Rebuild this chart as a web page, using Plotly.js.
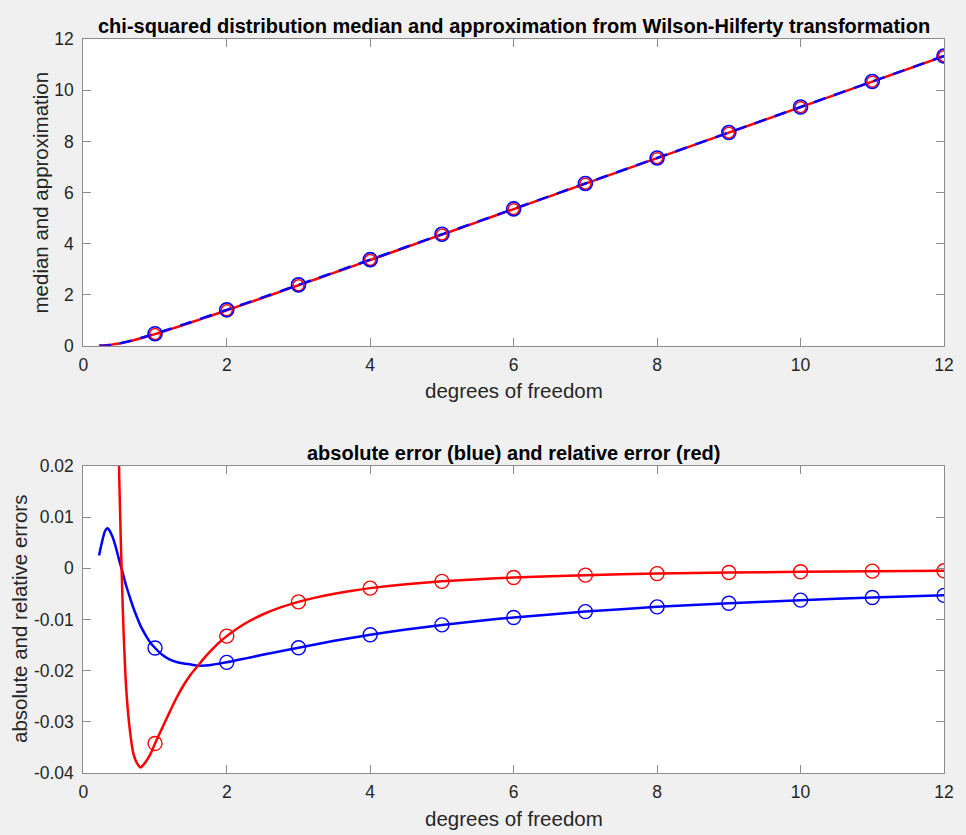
<!DOCTYPE html>
<html>
<head>
<meta charset="utf-8">
<script src="https://cdn.plot.ly/plotly-3.0.1.min.js"></script>
<style>html,body{margin:0;padding:0;background:#f0f0f0;}#chart{width:966px;height:835px;}</style>
</head>
<body>
<div id="chart"></div>
<script>
// degrees of freedom grid for the curves
const dofGrid = [0.22,0.25,0.3,0.33,0.35,0.4,0.45,0.5,0.55,0.6,0.65,0.7,0.75,0.8,0.85,0.9,0.95,1,1.1,1.2,1.3,1.4,1.5,1.6,1.7,1.8,1.9,2,2.25,2.5,2.75,3,3.25,3.5,3.75,4,4.5,5,5.5,6,7,8,9,10,11,12];
// chi-squared median (red, solid)
const medianCurve = [0.00225,0.00484,0.01247,0.0193,0.02472,0.04149,0.06264,0.08734,0.1155,0.14623,0.17958,0.21474,0.25175,0.2901,0.32984,0.3706,0.41232,0.45494,0.5421,0.6314,0.7225,0.8150,0.9084,1.0026,1.0977,1.1934,1.2897,1.38629,1.62936,1.87391,2.11955,2.36597,2.61303,2.86064,3.1085,3.35669,3.85376,4.35146,4.84961,5.34812,6.34581,7.34412,8.34283,9.34182,10.341,11.34032];
// Wilson-Hilferty approximation (blue, dashed)
const approxCurve = [0.0,0.00034,0.00523,0.0115,0.01703,0.03512,0.05837,0.08573,0.11642,0.14977,0.18528,0.22258,0.26135,0.30137,0.34244,0.38440,0.42712,0.47051,0.55895,0.64917,0.74081,0.83357,0.92722,1.02166,1.11669,1.21225,1.30828,1.40466,1.64701,1.89081,2.13575,2.38150,2.62788,2.87481,3.12206,3.36968,3.86572,4.36252,4.85990,5.35772,6.35427,7.35165,8.34966,9.34804,10.34671,11.34560];
// absolute error (blue)
const absErrCurve = [0.0025,0.0045,0.0072,0.0078,0.0077,0.0064,0.0043,0.0016,-0.0009,-0.0035,-0.0057,-0.0078,-0.0096,-0.0113,-0.0126,-0.0138,-0.0148,-0.01557,-0.0169,-0.0178,-0.0183,-0.0186,-0.0188,-0.01905,-0.0190,-0.01885,-0.0186,-0.01837,-0.01765,-0.0169,-0.0162,-0.01553,-0.01485,-0.01417,-0.01356,-0.01299,-0.01196,-0.01106,-0.01029,-0.0096,-0.00846,-0.00753,-0.00683,-0.00622,-0.00571,-0.00528];
// relative error (red)
const relErrCurve = [1.11,0.93,0.577,0.404,0.311,0.154,0.0687,0.0184,-0.0078,-0.0239,-0.0317,-0.0363,-0.0381,-0.0389,-0.0382,-0.0372,-0.0359,-0.03422,-0.0312,-0.0282,-0.0253,-0.0228,-0.0207,-0.0190,-0.01731,-0.0158,-0.01442,-0.01325,-0.01083,-0.00902,-0.00764,-0.00656,-0.00568,-0.00495,-0.00436,-0.00387,-0.0031,-0.00254,-0.00212,-0.0018,-0.00133,-0.00103,-0.00082,-0.00067,-0.00055,-0.00047];

// integer degrees of freedom (markers)
const dofInt = [1,2,3,4,5,6,7,8,9,10,11,12];
const medianInt = [0.45494,1.38629,2.36597,3.35669,4.35146,5.34812,6.34581,7.34412,8.34283,9.34182,10.341,11.34032];
const approxInt = [0.47051,1.40466,2.38150,3.36968,4.36252,5.35772,6.35427,7.35165,8.34966,9.34804,10.34671,11.34560];
const absErrInt = [-0.01557,-0.01837,-0.01553,-0.01299,-0.01106,-0.0096,-0.00846,-0.00753,-0.00683,-0.00622,-0.00571,-0.00528];
const relErrInt = [-0.03422,-0.01325,-0.00656,-0.00387,-0.00254,-0.0018,-0.00133,-0.00103,-0.00082,-0.00067,-0.00055,-0.00047];

// tick labels
const xTickVals = [0,2,4,6,8,10,12];
const xTickText = ['0','2','4','6','8','10','12'];
const yTopTickVals = [0,2,4,6,8,10,12];
const yTopTickText = ['0','2','4','6','8','10','12'];
const yBotTickVals = [-0.04,-0.03,-0.02,-0.01,0,0.01,0.02];
const yBotTickText = ['-0.04','-0.03','-0.02','-0.01','0','0.01','0.02'];

const RED = '#ff0000', BLUE = '#0000ff';
const FONT = 'Liberation Sans, Arial, Helvetica, sans-serif';

const traces = [
  {x: dofGrid, y: medianCurve, xaxis:'x', yaxis:'y', mode:'lines', line:{color:RED, width:2.5, shape:'spline', smoothing:0.6}, showlegend:false, hoverinfo:'skip'},
  {x: dofGrid, y: approxCurve, xaxis:'x', yaxis:'y', mode:'lines', line:{color:BLUE, width:2.5, dash:'12px,9px', shape:'spline', smoothing:0.6}, showlegend:false, hoverinfo:'skip'},
  {x: dofInt, y: medianInt, xaxis:'x', yaxis:'y', mode:'markers', marker:{symbol:'circle-open', size:11, color:RED, line:{width:1.5}}, showlegend:false},
  {x: dofInt, y: approxInt, xaxis:'x', yaxis:'y', mode:'markers', marker:{symbol:'circle-open', size:14, color:BLUE, line:{width:1.6}}, showlegend:false},

  {x: dofGrid, y: absErrCurve, xaxis:'x2', yaxis:'y2', mode:'lines', line:{color:BLUE, width:2.5, shape:'spline', smoothing:0.6}, showlegend:false, hoverinfo:'skip'},
  {x: dofGrid, y: relErrCurve, xaxis:'x2', yaxis:'y2', mode:'lines', line:{color:RED, width:2.5, shape:'spline', smoothing:0.6}, showlegend:false, hoverinfo:'skip'},
  {x: dofInt, y: absErrInt, xaxis:'x2', yaxis:'y2', mode:'markers', marker:{symbol:'circle-open', size:14, color:BLUE, line:{width:1.4}}, showlegend:false},
  {x: dofInt, y: relErrInt, xaxis:'x2', yaxis:'y2', mode:'markers', marker:{symbol:'circle-open', size:14, color:RED, line:{width:1.4}}, showlegend:false}
];

const axisCommon = {
  showline:true, linecolor:'#8c8c8c', linewidth:1, mirror:'ticks',
  ticks:'inside', ticklen:8, tickcolor:'#8c8c8c', tickwidth:1,
  showgrid:false, zeroline:false, fixedrange:true,
  tickfont:{family:FONT, size:17.5, color:'#262626'}
};

const xDom = [83.3/966, 944/966];
const layout = {
  width:966, height:835,
  paper_bgcolor:'#f0f0f0', plot_bgcolor:'#ffffff',
  margin:{l:0,r:0,t:0,b:0},
  showlegend:false,
  xaxis: Object.assign({}, axisCommon, {domain:xDom, anchor:'y', range:[0,12], tickvals:xTickVals, ticktext:xTickText, ticklabelstandoff:3}),
  yaxis: Object.assign({}, axisCommon, {domain:[1-345.7/835, 1-39.3/835], anchor:'x', range:[0,12], tickvals:yTopTickVals, ticktext:yTopTickText, ticklabelstandoff:5}),
  xaxis2: Object.assign({}, axisCommon, {domain:xDom, anchor:'y2', range:[0,12], tickvals:xTickVals, ticktext:xTickText, ticklabelstandoff:3}),
  yaxis2: Object.assign({}, axisCommon, {domain:[1-773/835, 1-466/835], anchor:'x2', range:[-0.04,0.02], tickvals:yBotTickVals, ticktext:yBotTickText, ticklabelstandoff:5}),
  annotations: [
    {text:'<b>chi-squared distribution median and approximation from Wilson-Hilferty transformation</b>', xref:'paper', yref:'paper', x:513.6/966, y:1-26/835, xanchor:'center', yanchor:'middle', showarrow:false, font:{family:FONT, size:20, color:'#000000'}},
    {text:'<b>absolute error (blue) and relative error (red)</b>', xref:'paper', yref:'paper', x:513.6/966, y:1-453/835, xanchor:'center', yanchor:'middle', showarrow:false, font:{family:FONT, size:20, color:'#000000'}},
    {text:'degrees of freedom', xref:'paper', yref:'paper', x:513.6/966, y:1-390.5/835, xanchor:'center', yanchor:'middle', showarrow:false, font:{family:FONT, size:20.5, color:'#262626'}},
    {text:'degrees of freedom', xref:'paper', yref:'paper', x:513.6/966, y:1-818/835, xanchor:'center', yanchor:'middle', showarrow:false, font:{family:FONT, size:20.5, color:'#262626'}},
    {text:'median and approximation', xref:'paper', yref:'paper', x:40/966, y:1-192.5/835, xanchor:'center', yanchor:'middle', textangle:-90, showarrow:false, font:{family:FONT, size:20.5, color:'#262626'}},
    {text:'absolute and relative errors', xref:'paper', yref:'paper', x:19.5/966, y:1-619.5/835, xanchor:'center', yanchor:'middle', textangle:-90, showarrow:false, font:{family:FONT, size:20.5, color:'#262626'}}
  ]
};

Plotly.newPlot('chart', traces, layout, {displayModeBar:false, staticPlot:true});
</script>
</body>
</html>
